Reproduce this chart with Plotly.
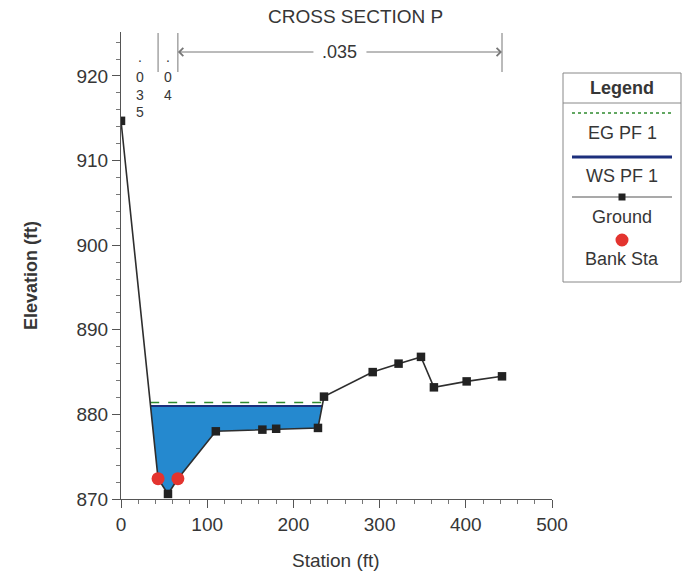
import numpy as np
import plotly.graph_objects as go

# Ground profile of cross section P
station = [0, 43, 54.5, 66, 110, 164, 180, 228.5, 235.5, 292, 322, 348, 363, 401, 442]
elevation = [914.7, 872.4, 870.6, 872.4, 878.0, 878.2, 878.3, 878.4, 882.1, 885.0,
             886.0, 886.8, 883.2, 883.9, 884.5]

bank_stations = [43, 66]
ws_elev = 881.0   # water surface, profile PF 1
eg_elev = 881.4   # energy grade, profile PF 1

# Manning's n regions (left overbank, channel, right overbank)
n_values = [".035", ".04", ".035"]
n_breaks = [0, 43, 66, 442]

x_ticks = [0, 100, 200, 300, 400, 500]
y_ticks = [870, 880, 890, 900, 910, 920]

FONT = "Liberation Sans, Arial, sans-serif"
TXT = "#363636"

# plot-area geometry in pixels (used to place the hand-drawn legend box)
L, R, T, B = 121, 132, 32, 73
W, H = 684, 572
PW, PH = W - L - R, H - T - B


def fx(px):
    return (px - L) / PW


def fy(py):
    return (H - B - py) / PH


def label(x, y, text, size=18, xref="paper", **kw):
    return dict(x=x, y=y, xref=xref, yref="paper", text=text, showarrow=False,
                xanchor="center", yanchor="middle",
                font=dict(size=size, color=TXT, family=FONT), **kw)


st = np.array(station, float)
el = np.array(elevation, float)


def wet_limits(level):
    i0 = int(np.argmin(el))
    i = i0
    while el[i] < level:
        i -= 1
    xl = st[i] + (level - el[i]) * (st[i + 1] - st[i]) / (el[i + 1] - el[i])
    j = i0
    while el[j] < level:
        j += 1
    xr = st[j - 1] + (level - el[j - 1]) * (st[j] - st[j - 1]) / (el[j] - el[j - 1])
    return xl, xr, i, j


xl, xr, il, jr = wet_limits(ws_elev)
poly_x = [xl] + list(st[il + 1:jr]) + [xr, xl]
poly_y = [ws_elev] + list(el[il + 1:jr]) + [ws_elev, ws_elev]
exl, exr, _, _ = wet_limits(eg_elev)

fig = go.Figure()

fig.add_trace(go.Scatter(x=poly_x, y=poly_y, mode="lines", fill="toself",
                         fillcolor="#2589cf", line=dict(width=0), hoverinfo="skip"))
fig.add_trace(go.Scatter(x=[exl, exr], y=[eg_elev, eg_elev], mode="lines",
                         line=dict(color="#2f8a2f", width=1.5, dash="dash"), name="EG PF 1"))
fig.add_trace(go.Scatter(x=[xl, xr], y=[ws_elev, ws_elev], mode="lines",
                         line=dict(color="#1c2f7c", width=2), name="WS PF 1"))
fig.add_trace(go.Scatter(x=station, y=elevation, mode="lines+markers",
                         line=dict(color="#2e2e2e", width=1.6),
                         marker=dict(symbol="square", size=8.5, color="#222222"),
                         name="Ground"))
fig.add_trace(go.Scatter(x=bank_stations, y=list(np.interp(bank_stations, st, el)),
                         mode="markers", marker=dict(size=13, color="#e3342f"),
                         name="Bank Sta"))

shapes = []
annotations = []

# Manning's n boundaries and labels (narrow regions get their value written vertically)
for b in n_breaks[1:]:
    shapes.append(dict(type="line", xref="x", yref="paper", x0=b, x1=b,
                       y0=fy(72), y1=fy(33), line=dict(color="#777777", width=1)))

for k, val in enumerate(n_values[:2]):
    xm = (n_breaks[k] + n_breaks[k + 1]) / 2
    for m, ch in enumerate(val):
        py = 57 if ch == "." else 77 + (m - 1) * 17.5
        annotations.append(label(xm, fy(py), ch, size=14, xref="x"))

xm = (n_breaks[2] + n_breaks[3]) / 2
annotations.append(label(xm, fy(52), n_values[2], xref="x"))
gap = 29
for head, tail in [(n_breaks[2], xm - gap), (n_breaks[3], xm + gap)]:
    annotations.append(dict(x=head, y=fy(52), xref="x", yref="paper",
                            ax=tail, ay=0, axref="x", ayref="pixel",
                            text="", showarrow=True, arrowhead=4, arrowsize=1.6,
                            arrowwidth=1, arrowcolor="#777777"))

# title and axis titles
annotations.append(label(fx(355), fy(17), "CROSS SECTION P", size=19))
annotations.append(label(fx(336), fy(560), "Station (ft)", size=19))
annotations.append(label(fx(31), fy(276), "<b>Elevation (ft)</b>", size=18, textangle=-90))

# legend box
lx0, lx1, ly0, ly1 = 563, 681, 73, 282
shapes.append(dict(type="rect", xref="paper", yref="paper", x0=fx(lx0), x1=fx(lx1),
                   y0=fy(ly1), y1=fy(ly0), line=dict(color="#888888", width=1),
                   fillcolor="white"))
shapes.append(dict(type="line", xref="paper", yref="paper", x0=fx(lx0), x1=fx(lx1),
                   y0=fy(103), y1=fy(103), line=dict(color="#888888", width=1)))
cx = 622
annotations.append(label(fx(cx), fy(88), "<b>Legend</b>"))
shapes.append(dict(type="line", xref="paper", yref="paper", x0=fx(572), x1=fx(671),
                   y0=fy(113), y1=fy(113),
                   line=dict(color="#2f8a2f", width=1.5, dash="dot")))
shapes.append(dict(type="line", xref="paper", yref="paper", x0=fx(572), x1=fx(672),
                   y0=fy(157), y1=fy(157), line=dict(color="#1c2f7c", width=3)))
shapes.append(dict(type="line", xref="paper", yref="paper", x0=fx(572), x1=fx(672),
                   y0=fy(197), y1=fy(197), line=dict(color="#555555", width=1.2)))
shapes.append(dict(type="rect", xref="paper", yref="paper", x0=fx(cx - 3.5), x1=fx(cx + 3.5),
                   y0=fy(200.5), y1=fy(193.5), line=dict(width=0), fillcolor="#222222"))
shapes.append(dict(type="circle", xref="paper", yref="paper", x0=fx(cx - 6.5), x1=fx(cx + 6.5),
                   y0=fy(246.5), y1=fy(233.5), line=dict(width=0), fillcolor="#e3342f"))
for text, py in [("EG PF 1", 133), ("WS PF 1", 176), ("Ground", 217), ("Bank Sta", 259)]:
    annotations.append(label(fx(cx), fy(py), text))

axis_common = dict(showgrid=False, zeroline=False, showline=True, linecolor="#555555",
                   linewidth=1, ticks="outside", ticklen=8, tickcolor="#555555",
                   tickfont=dict(size=19, color=TXT, family=FONT))

fig.update_layout(
    width=W, height=H,
    margin=dict(l=L, r=R, t=T, b=B),
    paper_bgcolor="white", plot_bgcolor="white",
    showlegend=False,
    shapes=shapes,
    annotations=annotations,
    xaxis=dict(range=[0, 500], tickvals=x_ticks,
               minor=dict(dtick=20, ticks="outside", ticklen=4, tickcolor="#777777"),
               **axis_common),
    yaxis=dict(range=[870, 925.2], tickvals=y_ticks,
               minor=dict(dtick=2, ticks="outside", ticklen=4, tickcolor="#777777"),
               **axis_common),
)

fig.write_html("out.html")
